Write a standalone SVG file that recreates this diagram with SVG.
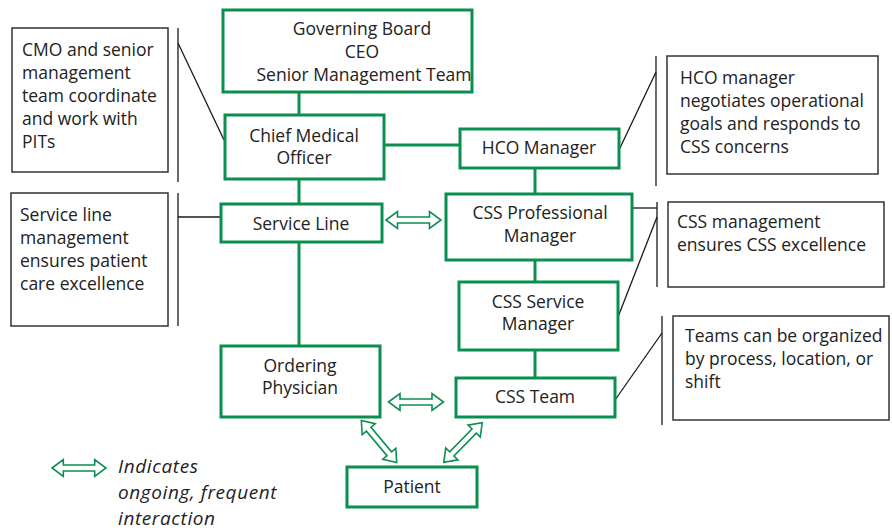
<svg xmlns="http://www.w3.org/2000/svg" xmlns:xlink="http://www.w3.org/1999/xlink" width="892" height="531" viewBox="0 0 892 531">
<style>
.node{fill:#fff;stroke:#0b8f4f;stroke-width:3}
.gl{stroke:#0b8f4f;stroke-width:3;fill:none}
.bl{stroke:#1a1a1a;stroke-width:1.3;fill:none}
.cb{fill:#fff;stroke:#333;stroke-width:1.5}
.t{font-family:"Open Sans","Noto Sans",sans-serif;font-size:17.5px;fill:#222}
.c{text-anchor:middle}
.it{font-family:"Open Sans","Noto Sans",sans-serif;font-size:19px;letter-spacing:0.6px;font-style:italic;fill:#222}
.arr{fill:#fff;stroke:#0b8f4f;stroke-width:1.6;stroke-linejoin:miter}
</style>
<defs>
<path id="dbl" d="M-27.5,0 L-16,-8.5 L-16,-3 L16,-3 L16,-8.5 L27.5,0 L16,8.5 L16,3 L-16,3 L-16,8.5 Z"/>
</defs>
<rect width="892" height="531" fill="#fff"/>

<g id="connectors">
<line class="gl" x1="299" y1="92" x2="299" y2="115"/>
<line class="gl" x1="384" y1="145" x2="460" y2="145"/>
<line class="gl" x1="299" y1="179" x2="299" y2="204"/>
<line class="gl" x1="535" y1="168" x2="535" y2="194"/>
<line class="gl" x1="299" y1="242" x2="299" y2="346"/>
<line class="gl" x1="535" y1="260" x2="535" y2="282"/>
<line class="gl" x1="535" y1="350" x2="535" y2="378"/>
<use href="#dbl" class="arr" transform="translate(413.5,220)"/>
<use href="#dbl" class="arr" transform="translate(416,402)"/>
<use href="#dbl" class="arr" transform="translate(379,441.5) rotate(50)"/>
<use href="#dbl" class="arr" transform="translate(463,442.5) rotate(-45.7)"/>
<line class="bl" x1="178" y1="28" x2="178" y2="182"/>
<line class="bl" x1="178" y1="43" x2="224" y2="140"/>
<line class="bl" x1="178" y1="193" x2="178" y2="326"/>
<line class="bl" x1="178" y1="217" x2="221" y2="217"/>
<line class="bl" x1="656" y1="56" x2="656" y2="186"/>
<line class="bl" x1="656" y1="72" x2="619" y2="150"/>
<line class="bl" x1="657" y1="202" x2="657" y2="287"/>
<line class="bl" x1="632" y1="208" x2="657" y2="208"/>
<line class="bl" x1="657" y1="217" x2="618" y2="317"/>
<line class="bl" x1="662" y1="316" x2="662" y2="425"/>
<line class="bl" x1="662" y1="333" x2="615" y2="400"/>
</g>

<g id="board">
<rect class="node" x="223" y="10" width="249" height="82"/>
<text class="t c" x="362" y="35">Governing Board</text>
<text class="t c" x="362" y="58">CEO</text>
<text class="t c" x="364" y="81">Senior Management Team</text>
</g>
<g id="cmo">
<rect class="node" x="225" y="115" width="159" height="64"/>
<text class="t c" x="304" y="142">Chief Medical</text>
<text class="t c" x="304" y="164">Officer</text>
</g>
<g id="hco">
<rect class="node" x="460" y="129" width="159" height="39"/>
<text class="t c" x="539" y="154">HCO Manager</text>
</g>
<g id="serviceline">
<rect class="node" x="221" y="204" width="161" height="38"/>
<text class="t c" x="301" y="230">Service Line</text>
</g>
<g id="cssprof">
<rect class="node" x="446" y="194" width="186" height="66"/>
<text class="t c" x="540" y="219">CSS Professional</text>
<text class="t c" x="540" y="242">Manager</text>
</g>
<g id="csssvc">
<rect class="node" x="459" y="282" width="159" height="68"/>
<text class="t c" x="538" y="308">CSS Service</text>
<text class="t c" x="538" y="330">Manager</text>
</g>
<g id="ordering">
<rect class="node" x="221" y="346" width="159" height="71"/>
<text class="t c" x="300" y="372">Ordering</text>
<text class="t c" x="300" y="394">Physician</text>
</g>
<g id="csteam">
<rect class="node" x="456" y="378" width="159" height="39"/>
<text class="t c" x="535" y="403">CSS Team</text>
</g>
<g id="patient">
<rect class="node" x="347" y="467" width="130" height="40"/>
<text class="t c" x="412" y="493">Patient</text>
</g>

<g id="callout-cmo">
<rect class="cb" x="12" y="28" width="156" height="144"/>
<text class="t" x="22" y="56">CMO and senior</text>
<text class="t" x="22" y="79">management</text>
<text class="t" x="22" y="102">team coordinate</text>
<text class="t" x="22" y="125">and work with</text>
<text class="t" x="22" y="148">PITs</text>
</g>
<g id="callout-sl">
<rect class="cb" x="11" y="193" width="157" height="133"/>
<text class="t" x="20" y="221">Service line</text>
<text class="t" x="20" y="244">management</text>
<text class="t" x="20" y="267">ensures patient</text>
<text class="t" x="20" y="290">care excellence</text>
</g>
<g id="callout-hco">
<rect class="cb" x="667" y="56" width="211" height="118"/>
<text class="t" x="680" y="84">HCO manager</text>
<text class="t" x="680" y="107">negotiates operational</text>
<text class="t" x="680" y="130">goals and responds to</text>
<text class="t" x="680" y="153">CSS concerns</text>
</g>
<g id="callout-css">
<rect class="cb" x="668" y="202" width="216" height="85"/>
<text class="t" x="677" y="228">CSS management</text>
<text class="t" x="677" y="251">ensures CSS excellence</text>
</g>
<g id="callout-teams">
<rect class="cb" x="673" y="316" width="216" height="104"/>
<text class="t" x="685" y="342">Teams can be organized</text>
<text class="t" x="685" y="365">by process, location, or</text>
<text class="t" x="685" y="388">shift</text>
</g>

<g id="legend">
<use href="#dbl" class="arr" transform="translate(79,468) scale(0.98)"/>
<text class="it" x="118" y="473">Indicates</text>
<text class="it" x="118" y="499">ongoing, frequent</text>
<text class="it" x="118" y="525">interaction</text>
</g>
</svg>
